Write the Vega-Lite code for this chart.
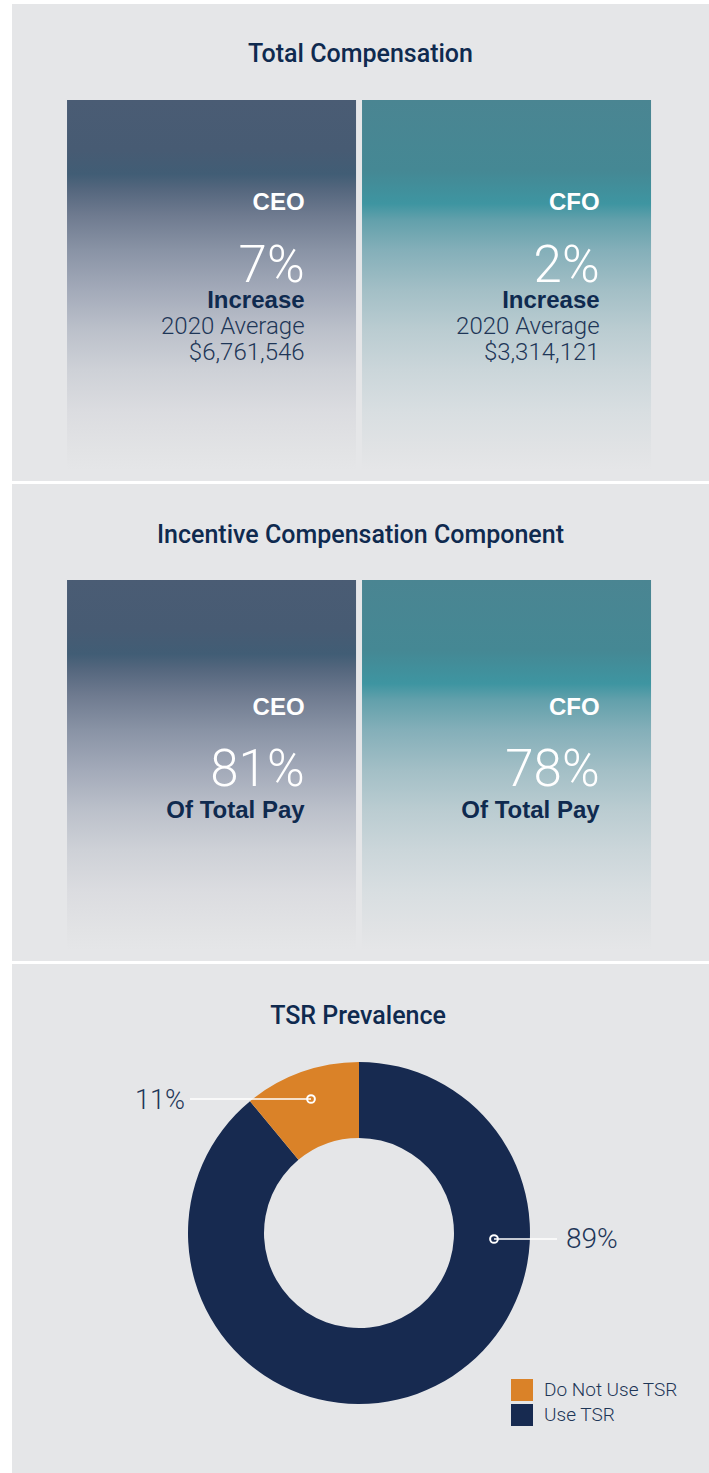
{
  "$schema": "https://vega.github.io/schema/vega-lite/v6.json",
  "background": "white",
  "padding": {"left": 12, "top": 4, "right": 0, "bottom": 0},
  "spacing": 3,
  "config": {"view": {"stroke": null, "fill": "#E5E6E8"}, "text": {"baseline": "alphabetic"}},
  "datasets": {
    "panels": [
      {"panel": "total", "title": "Total Compensation"},
      {"panel": "incentive", "title": "Incentive Compensation Component"},
      {"panel": "tsr", "title": "TSR Prevalence"}
    ],
    "total": [
      {"role": "CEO", "increase": 0.07, "avg2020": 6761546},
      {"role": "CFO", "increase": 0.02, "avg2020": 3314121}
    ],
    "incentive": [
      {"role": "CEO", "share": 0.81},
      {"role": "CFO", "share": 0.78}
    ],
    "tsr": [
      {"category": "Use TSR", "share": 0.89},
      {"category": "Do Not Use TSR", "share": 0.11}
    ]
  },
  "vconcat": [
    {
      "width": 697,
      "height": 477,
      "layer": [
        {
          "data": {"name": "panels"},
          "transform": [{"filter": "datum.panel === 'total'"}],
          "mark": {"type": "text", "baseline": "alphabetic", "font": "Roboto", "fontWeight": 500, "fontSize": 25, "color": "#0F2A4F"},
          "encoding": {
            "text": {"field": "title"},
            "y": {"datum": 58, "type": "quantitative", "scale": {"domain": [0, 477], "reverse": true, "nice": false, "zero": false}, "axis": null}
          }
        },
        {
          "data": {"name": "total"},
          "transform": [{"filter": "datum.role === 'CEO'"}],
          "mark": {"type": "bar", "fill": {"gradient": "linear", "x1": 0, "y1": 0, "x2": 0, "y2": 1, "stops": [
            {"offset": 0, "color": "#4A5C74"}, {"offset": 0.135, "color": "#475B73"}, {"offset": 0.2, "color": "#415D75"},
            {"offset": 0.243, "color": "#55677E"}, {"offset": 0.31, "color": "#6E7A8F"}, {"offset": 0.405, "color": "#8993A5"},
            {"offset": 0.514, "color": "#A3AAB9"}, {"offset": 0.62, "color": "#BBC0CA"}, {"offset": 0.73, "color": "#CED1D7"},
            {"offset": 0.84, "color": "#DBDCE0"}, {"offset": 0.946, "color": "#E2E3E5"}, {"offset": 1, "color": "#E5E6E8"}]}},
          "encoding": {
            "x": {"field": "role", "type": "nominal", "scale": {"type": "band", "paddingInner": 0.0203, "paddingOuter": 0.1915, "align": 0.487}, "axis": null},
            "y": {"datum": 96, "type": "quantitative"},
            "y2": {"datum": 466}
          }
        },
        {
          "data": {"name": "total"},
          "transform": [{"filter": "datum.role === 'CFO'"}],
          "mark": {"type": "bar", "fill": {"gradient": "linear", "x1": 0, "y1": 0, "x2": 0, "y2": 1, "stops": [
            {"offset": 0, "color": "#4A8592"}, {"offset": 0.19, "color": "#458894"}, {"offset": 0.28, "color": "#3E95A1"},
            {"offset": 0.324, "color": "#62A0AB"}, {"offset": 0.405, "color": "#84AFB9"}, {"offset": 0.514, "color": "#A3BFC6"},
            {"offset": 0.62, "color": "#BACCD1"}, {"offset": 0.73, "color": "#CBD6DA"}, {"offset": 0.84, "color": "#D8DEE1"},
            {"offset": 0.946, "color": "#E1E3E5"}, {"offset": 1, "color": "#E5E6E8"}]}},
          "encoding": {
            "x": {"field": "role", "type": "nominal"},
            "y": {"datum": 96, "type": "quantitative"},
            "y2": {"datum": 466}
          }
        },
        {
          "data": {"name": "total"},
          "mark": {"type": "text", "baseline": "alphabetic", "align": "right", "font": "Liberation Sans", "fontWeight": "bold", "fontSize": 24, "color": "white"},
          "encoding": {
            "x": {"field": "role", "type": "nominal", "bandPosition": 0.822},
            "y": {"datum": 206, "type": "quantitative"},
            "text": {"field": "role"}
          }
        },
        {
          "data": {"name": "total"},
          "mark": {"type": "text", "baseline": "alphabetic", "align": "right", "font": "Roboto", "fontWeight": 300, "fontSize": 51, "color": "white"},
          "encoding": {
            "x": {"field": "role", "type": "nominal", "bandPosition": 0.822},
            "y": {"datum": 278, "type": "quantitative"},
            "text": {"field": "increase", "format": ".0%"}
          }
        },
        {
          "data": {"name": "total"},
          "mark": {"type": "text", "text": "Increase", "baseline": "alphabetic", "align": "right", "font": "Liberation Sans", "fontWeight": "bold", "fontSize": 24, "color": "#0F2A4F"},
          "encoding": {
            "x": {"field": "role", "type": "nominal", "bandPosition": 0.822},
            "y": {"datum": 304, "type": "quantitative"}
          }
        },
        {
          "data": {"name": "total"},
          "mark": {"type": "text", "text": "2020 Average", "baseline": "alphabetic", "align": "right", "font": "Roboto", "fontWeight": 300, "fontSize": 24, "color": "#1E3657"},
          "encoding": {
            "x": {"field": "role", "type": "nominal", "bandPosition": 0.822},
            "y": {"datum": 330, "type": "quantitative"}
          }
        },
        {
          "data": {"name": "total"},
          "mark": {"type": "text", "baseline": "alphabetic", "align": "right", "font": "Roboto", "fontWeight": 300, "fontSize": 24, "color": "#1E3657"},
          "encoding": {
            "x": {"field": "role", "type": "nominal", "bandPosition": 0.822},
            "y": {"datum": 356, "type": "quantitative"},
            "text": {"field": "avg2020", "format": "$,.0f"}
          }
        }
      ]
    },
    {
      "width": 697,
      "height": 477,
      "layer": [
        {
          "data": {"name": "panels"},
          "transform": [{"filter": "datum.panel === 'incentive'"}],
          "mark": {"type": "text", "baseline": "alphabetic", "font": "Roboto", "fontWeight": 500, "fontSize": 25, "color": "#0F2A4F"},
          "encoding": {
            "text": {"field": "title"},
            "y": {"datum": 59, "type": "quantitative", "scale": {"domain": [0, 477], "reverse": true, "nice": false, "zero": false}, "axis": null}
          }
        },
        {
          "data": {"name": "incentive"},
          "transform": [{"filter": "datum.role === 'CEO'"}],
          "mark": {"type": "bar", "fill": {"gradient": "linear", "x1": 0, "y1": 0, "x2": 0, "y2": 1, "stops": [
            {"offset": 0, "color": "#4A5C74"}, {"offset": 0.135, "color": "#475B73"}, {"offset": 0.2, "color": "#415D75"},
            {"offset": 0.243, "color": "#55677E"}, {"offset": 0.31, "color": "#6E7A8F"}, {"offset": 0.405, "color": "#8993A5"},
            {"offset": 0.514, "color": "#A3AAB9"}, {"offset": 0.62, "color": "#BBC0CA"}, {"offset": 0.73, "color": "#CED1D7"},
            {"offset": 0.84, "color": "#DBDCE0"}, {"offset": 0.946, "color": "#E2E3E5"}, {"offset": 1, "color": "#E5E6E8"}]}},
          "encoding": {
            "x": {"field": "role", "type": "nominal", "scale": {"type": "band", "paddingInner": 0.0203, "paddingOuter": 0.1915, "align": 0.487}, "axis": null},
            "y": {"datum": 96, "type": "quantitative"},
            "y2": {"datum": 466}
          }
        },
        {
          "data": {"name": "incentive"},
          "transform": [{"filter": "datum.role === 'CFO'"}],
          "mark": {"type": "bar", "fill": {"gradient": "linear", "x1": 0, "y1": 0, "x2": 0, "y2": 1, "stops": [
            {"offset": 0, "color": "#4A8592"}, {"offset": 0.19, "color": "#458894"}, {"offset": 0.28, "color": "#3E95A1"},
            {"offset": 0.324, "color": "#62A0AB"}, {"offset": 0.405, "color": "#84AFB9"}, {"offset": 0.514, "color": "#A3BFC6"},
            {"offset": 0.62, "color": "#BACCD1"}, {"offset": 0.73, "color": "#CBD6DA"}, {"offset": 0.84, "color": "#D8DEE1"},
            {"offset": 0.946, "color": "#E1E3E5"}, {"offset": 1, "color": "#E5E6E8"}]}},
          "encoding": {
            "x": {"field": "role", "type": "nominal"},
            "y": {"datum": 96, "type": "quantitative"},
            "y2": {"datum": 466}
          }
        },
        {
          "data": {"name": "incentive"},
          "mark": {"type": "text", "baseline": "alphabetic", "align": "right", "font": "Liberation Sans", "fontWeight": "bold", "fontSize": 24, "color": "white"},
          "encoding": {
            "x": {"field": "role", "type": "nominal", "bandPosition": 0.822},
            "y": {"datum": 231, "type": "quantitative"},
            "text": {"field": "role"}
          }
        },
        {
          "data": {"name": "incentive"},
          "mark": {"type": "text", "baseline": "alphabetic", "align": "right", "font": "Roboto", "fontWeight": 300, "fontSize": 51, "color": "white"},
          "encoding": {
            "x": {"field": "role", "type": "nominal", "bandPosition": 0.822},
            "y": {"datum": 302, "type": "quantitative"},
            "text": {"field": "share", "format": ".0%"}
          }
        },
        {
          "data": {"name": "incentive"},
          "mark": {"type": "text", "text": "Of Total Pay", "baseline": "alphabetic", "align": "right", "font": "Liberation Sans", "fontWeight": "bold", "fontSize": 24, "color": "#0F2A4F"},
          "encoding": {
            "x": {"field": "role", "type": "nominal", "bandPosition": 0.822},
            "y": {"datum": 334, "type": "quantitative"}
          }
        }
      ]
    },
    {
      "width": 697,
      "height": 509,
      "layer": [
        {
          "data": {"name": "panels"},
          "transform": [{"filter": "datum.panel === 'tsr'"}],
          "mark": {"type": "text", "baseline": "alphabetic", "font": "Roboto", "fontWeight": 500, "fontSize": 25, "color": "#0F2A4F"},
          "encoding": {
            "text": {"field": "title"},
            "x": {"datum": 346, "type": "quantitative", "scale": {"domain": [0, 697], "nice": false, "zero": false}, "axis": null},
            "y": {"datum": 60, "type": "quantitative", "scale": {"domain": [0, 509], "reverse": true, "nice": false, "zero": false}, "axis": null}
          }
        },
        {
          "data": {"name": "tsr"},
          "mark": {"type": "arc", "innerRadius": 95, "outerRadius": 171, "stroke": null},
          "encoding": {
            "x": {"datum": 347, "type": "quantitative"},
            "y": {"datum": 269, "type": "quantitative"},
            "theta": {"field": "share", "type": "quantitative", "stack": true},
            "order": {"field": "category", "sort": "descending"},
            "color": {
              "field": "category", "type": "nominal",
              "scale": {"domain": ["Do Not Use TSR", "Use TSR"], "range": ["#DA8228", "#172A50"]},
              "legend": {
                "title": null, "orient": "none", "legendX": 499, "legendY": 1375,
                "symbolType": "square", "symbolSize": 484, "symbolStrokeWidth": 0, "symbolOpacity": 1,
                "labelFont": "Roboto", "labelFontWeight": 300, "labelFontSize": 19, "labelColor": "#1E3657",
                "labelOffset": 11, "rowPadding": 3
              }
            }
          }
        },
        {
          "data": {"name": "tsr"},
          "transform": [{"filter": "datum.category === 'Do Not Use TSR'"}],
          "mark": {"type": "rule", "color": "white", "strokeWidth": 1.5},
          "encoding": {
            "x": {"datum": 178, "type": "quantitative"},
            "x2": {"datum": 299},
            "y": {"datum": 135, "type": "quantitative"}
          }
        },
        {
          "data": {"name": "tsr"},
          "transform": [{"filter": "datum.category === 'Use TSR'"}],
          "mark": {"type": "rule", "color": "white", "strokeWidth": 1.5},
          "encoding": {
            "x": {"datum": 482, "type": "quantitative"},
            "x2": {"datum": 545},
            "y": {"datum": 275, "type": "quantitative"}
          }
        },
        {
          "data": {"name": "tsr"},
          "transform": [{"filter": "datum.category === 'Do Not Use TSR'"}],
          "mark": {"type": "point", "shape": "circle", "filled": false, "stroke": "white", "strokeWidth": 2, "size": 60, "opacity": 1},
          "encoding": {
            "x": {"datum": 299, "type": "quantitative"},
            "y": {"datum": 135, "type": "quantitative"}
          }
        },
        {
          "data": {"name": "tsr"},
          "transform": [{"filter": "datum.category === 'Use TSR'"}],
          "mark": {"type": "point", "shape": "circle", "filled": false, "stroke": "white", "strokeWidth": 2, "size": 60, "opacity": 1},
          "encoding": {
            "x": {"datum": 482, "type": "quantitative"},
            "y": {"datum": 275, "type": "quantitative"}
          }
        },
        {
          "data": {"name": "tsr"},
          "transform": [{"filter": "datum.category === 'Do Not Use TSR'"}],
          "mark": {"type": "text", "align": "right", "baseline": "middle", "font": "Roboto", "fontWeight": 300, "fontSize": 27, "color": "#1E3657"},
          "encoding": {
            "x": {"datum": 173, "type": "quantitative"},
            "y": {"datum": 137, "type": "quantitative"},
            "text": {"field": "share", "format": ".0%"}
          }
        },
        {
          "data": {"name": "tsr"},
          "transform": [{"filter": "datum.category === 'Use TSR'"}],
          "mark": {"type": "text", "align": "left", "baseline": "middle", "font": "Roboto", "fontWeight": 300, "fontSize": 28, "color": "#1E3657"},
          "encoding": {
            "x": {"datum": 554, "type": "quantitative"},
            "y": {"datum": 276, "type": "quantitative"},
            "text": {"field": "share", "format": ".0%"}
          }
        }
      ]
    }
  ]
}
